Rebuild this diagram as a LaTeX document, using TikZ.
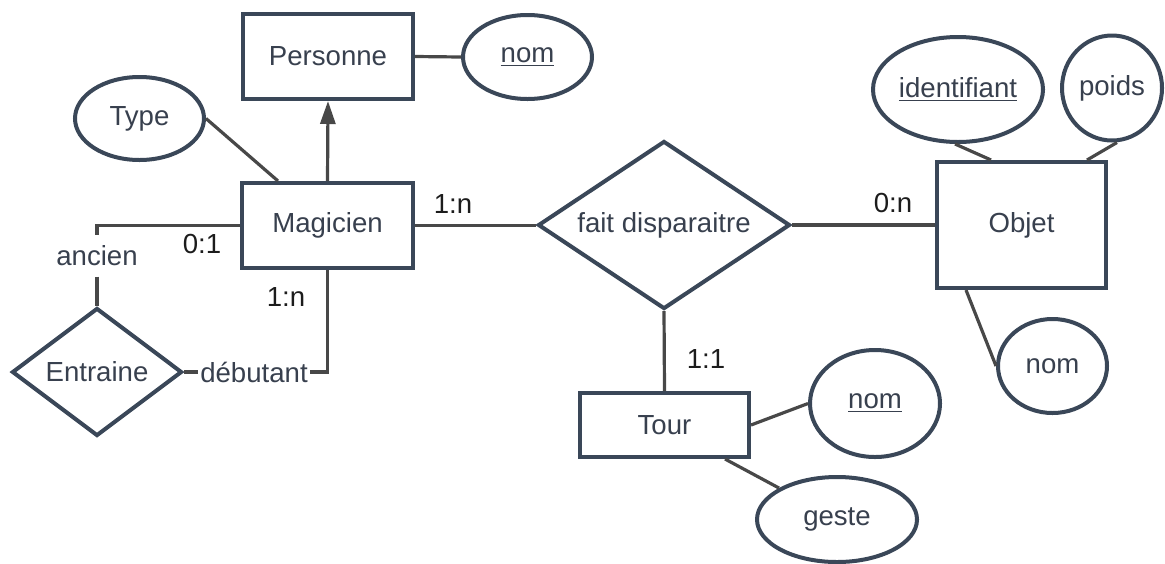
\documentclass[tikz,border=0pt]{standalone}
\usepackage{fontspec}
\setmainfont{Liberation Sans}
\usetikzlibrary{arrows.meta,shapes.geometric,calc}
\definecolor{slate}{RGB}{58,71,88}
\definecolor{textslate}{RGB}{56,64,78}
\definecolor{linegray}{RGB}{72,72,72}
\definecolor{cardblack}{RGB}{28,28,28}

\tikzset{
  entity/.style={rectangle, draw=slate, line width=2pt, fill=white, inner sep=0pt, text=textslate},
  attrib/.style={ellipse, draw=slate, line width=2pt, fill=white, inner sep=0pt, text=textslate},
  relation/.style={diamond, draw=slate, line width=2pt, fill=white, inner sep=0pt, text=textslate},
  link/.style={draw=linegray, line width=1.6pt},
  card/.style={text=cardblack, inner sep=0pt},
  role/.style={text=textslate, inner xsep=1pt, inner ysep=5pt}
}

\begin{document}
\begin{tikzpicture}[x=0.5pt, y=-0.5pt, >={Triangle[length=11.5pt, width=7.5pt]},
  every node/.style={font=\fontsize{13.8}{16}\selectfont}]
  \useasboundingbox (0,0) rectangle (1165,563);
  % entities
  \node[entity, minimum width=85pt, minimum height=42.5pt] (Personne) at (328,56.5) {Personne};
  \node[entity, minimum width=85.5pt, minimum height=42.5pt] (Magicien) at (327.5,225.5) {Magicien};
  \node[entity, minimum width=84.5pt, minimum height=63pt] (Objet) at (1021.5,225) {Objet};
  \node[entity, minimum width=84.5pt, minimum height=32pt] (Tour) at (664.5,425) {Tour};
  % relations
  \node[relation, aspect=1.5, minimum width=126pt, minimum height=84pt] (fait) at (664,225) {fait disparaitre};
  \node[relation, aspect=1.33, minimum width=85pt, minimum height=64pt] (Entraine) at (97,372) {Entraine};
  % attributes
  \node[attrib, minimum width=64.5pt, minimum height=42pt] (nomP) at (527.5,57) {\underline{nom}};
  \node[attrib, minimum width=64.5pt, minimum height=41.5pt] (Type) at (139.5,118.5) {Type};
  \node[attrib, minimum width=85pt, minimum height=52.5pt] (ident) at (958,89.5) {\underline{identifiant}};
  \node[attrib, minimum width=50pt, minimum height=52.5pt] (poids) at (1112,88) {poids};
  \node[attrib, minimum width=54.5pt, minimum height=47pt] (nomO) at (1052.5,366) {nom};
  \node[attrib, minimum width=65pt, minimum height=53.5pt] (nomT) at (875,403.5) {\underline{nom}};
  \node[attrib, minimum width=80pt, minimum height=42.5pt] (geste) at (837,519.5) {geste};
  % roles of Entraine
  \node[role] (ancien) at (97,256) {ancien};
  \node[role] (debutant) at (254,372) {débutant};
  % cardinalities
  \node[card] (cMagFait) at (453,204) {1:n};
  \node[card] (cFaitObj) at (893,203) {0:n};
  \node[card] (cFaitTour) at (706,359) {1:1};
  \node[card] (cAncien) at (202,244) {0:1};
  \node[card] (cDebutant) at (286,297) {1:n};

  % links
  \draw[link] (Personne.east) -- (nomP.west);
  \draw[link] (Type.east) -- ($(Magicien.north west)+(38,0)$);
  \draw[link, ->] (Magicien.north) -- (Personne.south);
  \draw[link] (Magicien.east) -- (Magicien.east -| fait.west);
  \draw[link] (fait.east) -- (fait.east -| Objet.west);
  \draw[link] (fait.south) -- (Tour.north);
  \draw[link] (Magicien.west) -| (ancien.north);
  \draw[link] (ancien.south) -- (Entraine.north);
  \draw[link] (Entraine.east) -- (debutant.west);
  \draw[link] (debutant.east) -| (Magicien.south);
  \draw[link] ($(ident.south)+(-3,0)$) -- ($(Objet.north west)+(56,0)$);
  \draw[link] ($(poids.south)+(5,0)$) -- ($(Objet.north east)+(-21,0)$);
  \draw[link] ($(Objet.south west)+(31,0)$) -- (nomO.west);
  \draw[link] (Tour.east) -- (nomT.west);
  \draw[link] ($(Tour.south east)+(-26,0)$) -- (geste.north west);
\end{tikzpicture}
\end{document}
